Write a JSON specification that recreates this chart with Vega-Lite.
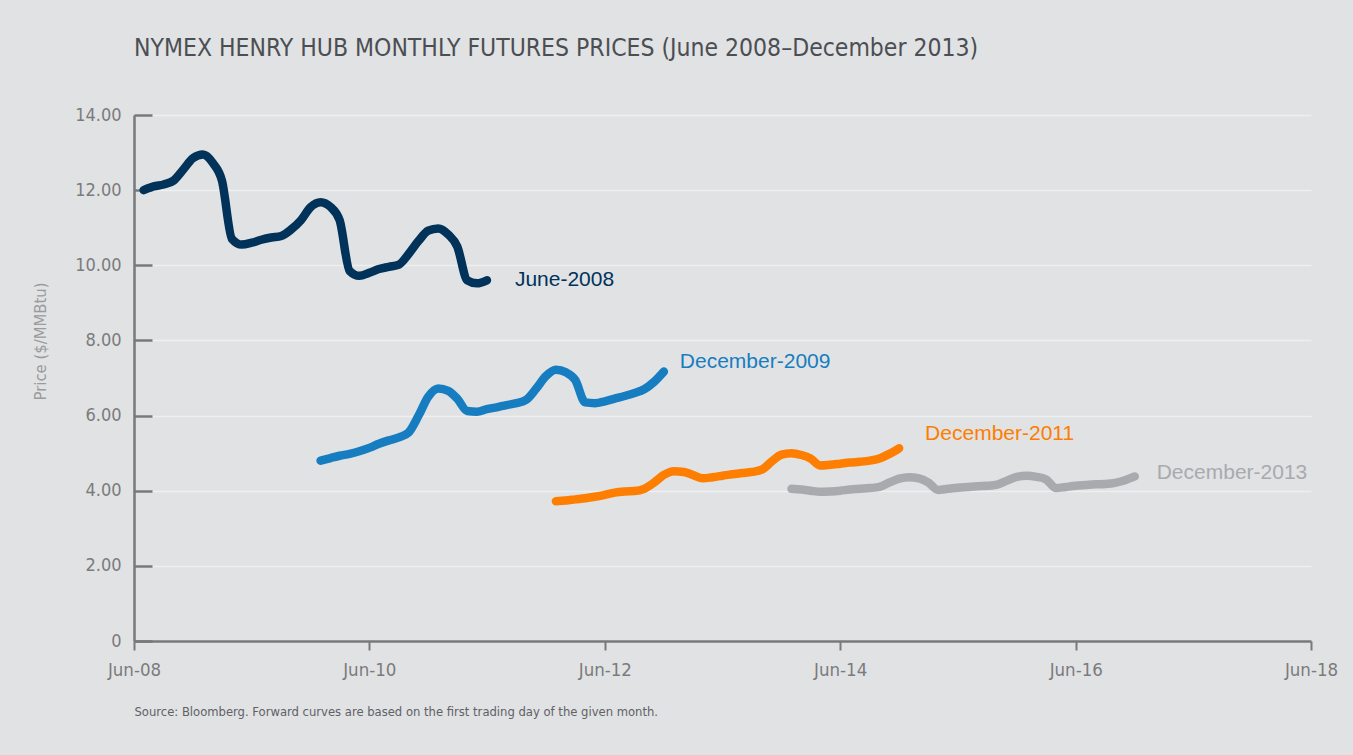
{
  "$schema": "https://vega.github.io/schema/vega-lite/v6.json",
  "width": 1177,
  "height": 526,
  "autosize": {"type": "none"},
  "padding": {"left": 134, "top": 115, "right": 42, "bottom": 114},
  "background": "#e1e2e4",
  "config": {
    "view": {"stroke": null},
    "font": "DejaVu Sans Condensed, Roboto, sans-serif"
  },
  "title": {
    "text": "NYMEX HENRY HUB MONTHLY FUTURES PRICES (June 2008–December 2013)",
    "anchor": "start",
    "frame": "group",
    "font": "DejaVu Sans Condensed, Roboto, sans-serif",
    "fontSize": 24.5,
    "fontWeight": "normal",
    "color": "#4b4e53",
    "baseline": "alphabetic",
    "offset": 26
  },
  "datasets": {
    "curves": [
      {"series": "June-2008", "date": "2008/07/01", "price": 12.00},
      {"series": "June-2008", "date": "2008/08/01", "price": 12.10},
      {"series": "June-2008", "date": "2008/09/01", "price": 12.15},
      {"series": "June-2008", "date": "2008/10/01", "price": 12.25},
      {"series": "June-2008", "date": "2008/11/01", "price": 12.55},
      {"series": "June-2008", "date": "2008/12/01", "price": 12.85},
      {"series": "June-2008", "date": "2009/01/01", "price": 12.95},
      {"series": "June-2008", "date": "2009/02/01", "price": 12.72},
      {"series": "June-2008", "date": "2009/03/01", "price": 12.25},
      {"series": "June-2008", "date": "2009/04/01", "price": 10.70},
      {"series": "June-2008", "date": "2009/05/01", "price": 10.55},
      {"series": "June-2008", "date": "2009/06/01", "price": 10.60},
      {"series": "June-2008", "date": "2009/07/01", "price": 10.68},
      {"series": "June-2008", "date": "2009/08/01", "price": 10.74},
      {"series": "June-2008", "date": "2009/09/01", "price": 10.78},
      {"series": "June-2008", "date": "2009/10/01", "price": 10.95},
      {"series": "June-2008", "date": "2009/11/01", "price": 11.20},
      {"series": "June-2008", "date": "2009/12/01", "price": 11.55},
      {"series": "June-2008", "date": "2010/01/01", "price": 11.68},
      {"series": "June-2008", "date": "2010/02/01", "price": 11.55},
      {"series": "June-2008", "date": "2010/03/01", "price": 11.20},
      {"series": "June-2008", "date": "2010/04/01", "price": 9.85},
      {"series": "June-2008", "date": "2010/05/01", "price": 9.72},
      {"series": "June-2008", "date": "2010/06/01", "price": 9.80},
      {"series": "June-2008", "date": "2010/07/01", "price": 9.90},
      {"series": "June-2008", "date": "2010/08/01", "price": 9.96},
      {"series": "June-2008", "date": "2010/09/01", "price": 10.02},
      {"series": "June-2008", "date": "2010/10/01", "price": 10.30},
      {"series": "June-2008", "date": "2010/11/01", "price": 10.65},
      {"series": "June-2008", "date": "2010/12/01", "price": 10.92},
      {"series": "June-2008", "date": "2011/01/01", "price": 10.98},
      {"series": "June-2008", "date": "2011/02/01", "price": 10.82},
      {"series": "June-2008", "date": "2011/03/01", "price": 10.50},
      {"series": "June-2008", "date": "2011/04/01", "price": 9.60},
      {"series": "June-2008", "date": "2011/05/01", "price": 9.52},
      {"series": "June-2008", "date": "2011/06/01", "price": 9.60},
      {"series": "December-2009", "date": "2010/01/01", "price": 4.80},
      {"series": "December-2009", "date": "2010/02/01", "price": 4.87},
      {"series": "December-2009", "date": "2010/03/01", "price": 4.93},
      {"series": "December-2009", "date": "2010/04/01", "price": 4.98},
      {"series": "December-2009", "date": "2010/05/01", "price": 5.05},
      {"series": "December-2009", "date": "2010/06/01", "price": 5.14},
      {"series": "December-2009", "date": "2010/07/01", "price": 5.25},
      {"series": "December-2009", "date": "2010/08/01", "price": 5.34},
      {"series": "December-2009", "date": "2010/09/01", "price": 5.42},
      {"series": "December-2009", "date": "2010/10/01", "price": 5.55},
      {"series": "December-2009", "date": "2010/11/01", "price": 6.00},
      {"series": "December-2009", "date": "2010/12/01", "price": 6.50},
      {"series": "December-2009", "date": "2011/01/01", "price": 6.72},
      {"series": "December-2009", "date": "2011/02/01", "price": 6.66},
      {"series": "December-2009", "date": "2011/03/01", "price": 6.45},
      {"series": "December-2009", "date": "2011/04/01", "price": 6.12},
      {"series": "December-2009", "date": "2011/05/01", "price": 6.10},
      {"series": "December-2009", "date": "2011/06/01", "price": 6.17},
      {"series": "December-2009", "date": "2011/07/01", "price": 6.22},
      {"series": "December-2009", "date": "2011/08/01", "price": 6.28},
      {"series": "December-2009", "date": "2011/09/01", "price": 6.33},
      {"series": "December-2009", "date": "2011/10/01", "price": 6.42},
      {"series": "December-2009", "date": "2011/11/01", "price": 6.72},
      {"series": "December-2009", "date": "2011/12/01", "price": 7.05},
      {"series": "December-2009", "date": "2012/01/01", "price": 7.22},
      {"series": "December-2009", "date": "2012/02/01", "price": 7.15},
      {"series": "December-2009", "date": "2012/03/01", "price": 6.95},
      {"series": "December-2009", "date": "2012/04/01", "price": 6.35},
      {"series": "December-2009", "date": "2012/05/01", "price": 6.33},
      {"series": "December-2009", "date": "2012/06/01", "price": 6.38},
      {"series": "December-2009", "date": "2012/07/01", "price": 6.45},
      {"series": "December-2009", "date": "2012/08/01", "price": 6.52},
      {"series": "December-2009", "date": "2012/09/01", "price": 6.60},
      {"series": "December-2009", "date": "2012/10/01", "price": 6.70},
      {"series": "December-2009", "date": "2012/11/01", "price": 6.90},
      {"series": "December-2009", "date": "2012/12/01", "price": 7.17},
      {"series": "December-2011", "date": "2012/01/01", "price": 3.72},
      {"series": "December-2011", "date": "2012/02/01", "price": 3.74},
      {"series": "December-2011", "date": "2012/03/01", "price": 3.77},
      {"series": "December-2011", "date": "2012/04/01", "price": 3.80},
      {"series": "December-2011", "date": "2012/05/01", "price": 3.84},
      {"series": "December-2011", "date": "2012/06/01", "price": 3.89},
      {"series": "December-2011", "date": "2012/07/01", "price": 3.95},
      {"series": "December-2011", "date": "2012/08/01", "price": 3.98},
      {"series": "December-2011", "date": "2012/09/01", "price": 3.99},
      {"series": "December-2011", "date": "2012/10/01", "price": 4.05},
      {"series": "December-2011", "date": "2012/11/01", "price": 4.22},
      {"series": "December-2011", "date": "2012/12/01", "price": 4.42},
      {"series": "December-2011", "date": "2013/01/01", "price": 4.52},
      {"series": "December-2011", "date": "2013/02/01", "price": 4.50},
      {"series": "December-2011", "date": "2013/03/01", "price": 4.42},
      {"series": "December-2011", "date": "2013/04/01", "price": 4.33},
      {"series": "December-2011", "date": "2013/05/01", "price": 4.36},
      {"series": "December-2011", "date": "2013/06/01", "price": 4.40},
      {"series": "December-2011", "date": "2013/07/01", "price": 4.44},
      {"series": "December-2011", "date": "2013/08/01", "price": 4.47},
      {"series": "December-2011", "date": "2013/09/01", "price": 4.50},
      {"series": "December-2011", "date": "2013/10/01", "price": 4.56},
      {"series": "December-2011", "date": "2013/11/01", "price": 4.78},
      {"series": "December-2011", "date": "2013/12/01", "price": 4.96},
      {"series": "December-2011", "date": "2014/01/01", "price": 5.00},
      {"series": "December-2011", "date": "2014/02/01", "price": 4.95},
      {"series": "December-2011", "date": "2014/03/01", "price": 4.86},
      {"series": "December-2011", "date": "2014/04/01", "price": 4.67},
      {"series": "December-2011", "date": "2014/05/01", "price": 4.69},
      {"series": "December-2011", "date": "2014/06/01", "price": 4.72},
      {"series": "December-2011", "date": "2014/07/01", "price": 4.75},
      {"series": "December-2011", "date": "2014/08/01", "price": 4.77},
      {"series": "December-2011", "date": "2014/09/01", "price": 4.80},
      {"series": "December-2011", "date": "2014/10/01", "price": 4.86},
      {"series": "December-2011", "date": "2014/11/01", "price": 4.98},
      {"series": "December-2011", "date": "2014/12/01", "price": 5.13},
      {"series": "December-2013", "date": "2014/01/01", "price": 4.05},
      {"series": "December-2013", "date": "2014/02/01", "price": 4.03},
      {"series": "December-2013", "date": "2014/03/01", "price": 4.00},
      {"series": "December-2013", "date": "2014/04/01", "price": 3.97},
      {"series": "December-2013", "date": "2014/05/01", "price": 3.98},
      {"series": "December-2013", "date": "2014/06/01", "price": 4.00},
      {"series": "December-2013", "date": "2014/07/01", "price": 4.03},
      {"series": "December-2013", "date": "2014/08/01", "price": 4.05},
      {"series": "December-2013", "date": "2014/09/01", "price": 4.07},
      {"series": "December-2013", "date": "2014/10/01", "price": 4.10},
      {"series": "December-2013", "date": "2014/11/01", "price": 4.22},
      {"series": "December-2013", "date": "2014/12/01", "price": 4.32},
      {"series": "December-2013", "date": "2015/01/01", "price": 4.36},
      {"series": "December-2013", "date": "2015/02/01", "price": 4.33},
      {"series": "December-2013", "date": "2015/03/01", "price": 4.22},
      {"series": "December-2013", "date": "2015/04/01", "price": 4.02},
      {"series": "December-2013", "date": "2015/05/01", "price": 4.05},
      {"series": "December-2013", "date": "2015/06/01", "price": 4.08},
      {"series": "December-2013", "date": "2015/07/01", "price": 4.10},
      {"series": "December-2013", "date": "2015/08/01", "price": 4.12},
      {"series": "December-2013", "date": "2015/09/01", "price": 4.13},
      {"series": "December-2013", "date": "2015/10/01", "price": 4.16},
      {"series": "December-2013", "date": "2015/11/01", "price": 4.27},
      {"series": "December-2013", "date": "2015/12/01", "price": 4.37},
      {"series": "December-2013", "date": "2016/01/01", "price": 4.40},
      {"series": "December-2013", "date": "2016/02/01", "price": 4.37},
      {"series": "December-2013", "date": "2016/03/01", "price": 4.30},
      {"series": "December-2013", "date": "2016/04/01", "price": 4.07},
      {"series": "December-2013", "date": "2016/05/01", "price": 4.10},
      {"series": "December-2013", "date": "2016/06/01", "price": 4.13},
      {"series": "December-2013", "date": "2016/07/01", "price": 4.15},
      {"series": "December-2013", "date": "2016/08/01", "price": 4.17},
      {"series": "December-2013", "date": "2016/09/01", "price": 4.18},
      {"series": "December-2013", "date": "2016/10/01", "price": 4.21},
      {"series": "December-2013", "date": "2016/11/01", "price": 4.28},
      {"series": "December-2013", "date": "2016/12/01", "price": 4.38}
    ]
  },
  "data": {"name": "curves"},
  "encoding": {
    "x": {
      "field": "date",
      "type": "temporal",
      "scale": {
        "domain": [{"year": 2008, "month": 6, "date": 1}, {"year": 2018, "month": 6, "date": 1}],
        "nice": false
      },
      "axis": {
        "values": [
          {"year": 2008, "month": 6, "date": 1},
          {"year": 2010, "month": 6, "date": 1},
          {"year": 2012, "month": 6, "date": 1},
          {"year": 2014, "month": 6, "date": 1},
          {"year": 2016, "month": 6, "date": 1},
          {"year": 2018, "month": 6, "date": 1}
        ],
        "format": "%b-%y",
        "labelFlush": false,
        "labelOverlap": false,
        "labelFontSize": 18.5,
        "labelColor": "#7a7b7d",
        "labelPadding": 10,
        "tickColor": "#79797b",
        "tickWidth": 2,
        "tickSize": 9,
        "domainColor": "#79797b",
        "domainWidth": 2.5,
        "grid": false,
        "title": "Source: Bloomberg. Forward curves are based on the first trading day of the given month.",
        "titleAnchor": "start",
        "titleAlign": "left",
        "titleFontSize": 12.9,
        "titleFontWeight": "normal",
        "titleColor": "#5f6164",
        "titlePadding": 27
      }
    },
    "y": {
      "field": "price",
      "type": "quantitative",
      "scale": {"domain": [0, 14], "nice": false, "zero": true},
      "axis": {
        "values": [0, 2, 4, 6, 8, 10, 12, 14],
        "labelExpr": "datum.value == 0 ? '0' : format(datum.value, '.2f')",
        "labelFontSize": 18,
        "labelColor": "#7a7b7d",
        "labelPadding": 31,
        "tickColor": "#79797b",
        "tickWidth": 2.5,
        "tickSize": -18,
        "domainColor": "#79797b",
        "domainWidth": 2.5,
        "grid": true,
        "gridColor": "#eeeff0",
        "gridWidth": 1.5,
        "title": "Price ($/MMBtu)",
        "titleFontSize": 16.5,
        "titleFontWeight": "normal",
        "titleColor": "#9a9b9d",
        "titleX": -94,
        "titleY": 226,
        "titleAlign": "center",
        "titleBaseline": "middle",
        "titleAngle": -90
      }
    }
  },
  "layer": [
    {
      "mark": {"type": "line", "strokeWidth": 8.5, "strokeCap": "round", "strokeJoin": "round", "interpolate": "monotone"},
      "encoding": {
        "color": {
          "field": "series",
          "type": "nominal",
          "scale": {
            "domain": ["June-2008", "December-2009", "December-2011", "December-2013"],
            "range": ["#00325a", "#177dc1", "#fd7e00", "#a8aaae"]
          },
          "legend": null
        },
        "detail": {"field": "series"}
      }
    },
    {
      "transform": [
        {"filter": "datum.series == 'June-2008'"},
        {"window": [{"op": "row_number", "as": "rn"}], "sort": [{"field": "date", "order": "descending"}]},
        {"filter": "datum.rn == 1"}
      ],
      "mark": {"type": "text", "align": "left", "baseline": "middle", "dx": 28, "dy": 0, "font": "Liberation Sans", "fontSize": 21, "color": "#00325a"},
      "encoding": {"text": {"field": "series"}}
    },
    {
      "transform": [
        {"filter": "datum.series == 'December-2009'"},
        {"window": [{"op": "row_number", "as": "rn"}], "sort": [{"field": "date", "order": "descending"}]},
        {"filter": "datum.rn == 1"}
      ],
      "mark": {"type": "text", "align": "left", "baseline": "middle", "dx": 16, "dy": -10, "font": "Liberation Sans", "fontSize": 21, "color": "#177dc1"},
      "encoding": {"text": {"field": "series"}}
    },
    {
      "transform": [
        {"filter": "datum.series == 'December-2011'"},
        {"window": [{"op": "row_number", "as": "rn"}], "sort": [{"field": "date", "order": "descending"}]},
        {"filter": "datum.rn == 1"}
      ],
      "mark": {"type": "text", "align": "left", "baseline": "middle", "dx": 26, "dy": -14, "font": "Liberation Sans", "fontSize": 21, "color": "#fd7e00"},
      "encoding": {"text": {"field": "series"}}
    },
    {
      "transform": [
        {"filter": "datum.series == 'December-2013'"},
        {"window": [{"op": "row_number", "as": "rn"}], "sort": [{"field": "date", "order": "descending"}]},
        {"filter": "datum.rn == 1"}
      ],
      "mark": {"type": "text", "align": "left", "baseline": "middle", "dx": 22, "dy": -3, "font": "Liberation Sans", "fontSize": 21, "color": "#a8aaae"},
      "encoding": {"text": {"field": "series"}}
    }
  ]
}
